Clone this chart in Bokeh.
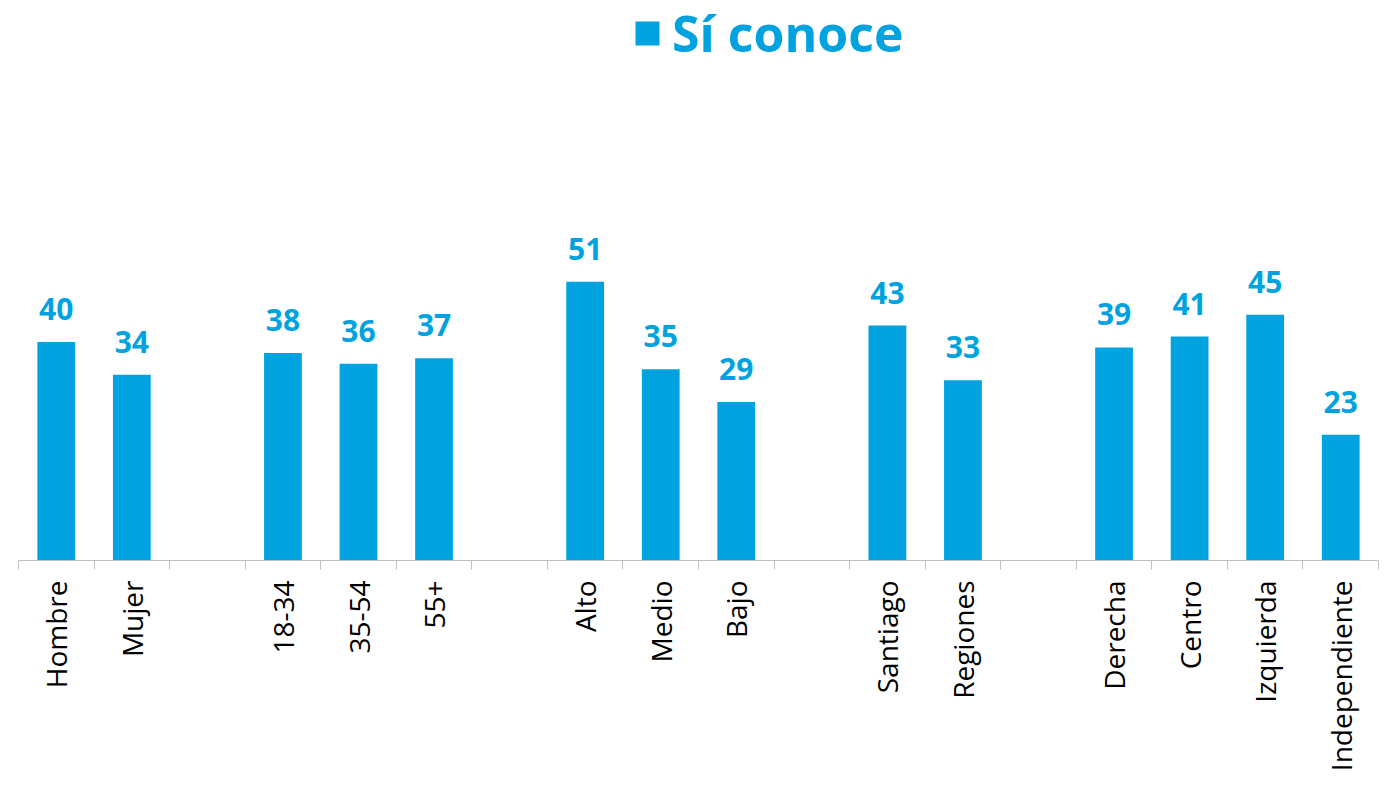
from bokeh.plotting import figure
from bokeh.models import Range1d, FixedTicker, Legend, LegendItem, ColumnDataSource
from bokeh.core.properties import value
from bokeh.embed import file_html
from bokeh.resources import INLINE
import math

categories = ["Hombre", "Mujer", "", "18-34", "35-54", "55+", "", "Alto", "Medio", "Bajo", "",
              "Santiago", "Regiones", "", "Derecha", "Centro", "Izquierda", "Independiente"]
values = [40, 34, None, 38, 36, 37, None, 51, 35, 29, None, 43, 33, None, 39, 41, 45, 23]
series_name = "Sí conoce"

BLUE = "#00A3E0"
FONT = "Open Sans"

xs = [i for i, v in enumerate(values) if v is not None]
vs = [v for v in values if v is not None]
src = ColumnDataSource(dict(x=xs, top=vs, lab=[str(v) for v in vs]))

p = figure(width=1388, height=798, output_backend="svg", toolbar_location=None,
           x_range=Range1d(-0.5, len(categories) - 0.5), y_range=Range1d(0, 102.5),
           min_border_left=18, min_border_right=10, min_border_top=0, min_border_bottom=238)
p.outline_line_color = None
p.xgrid.visible = False
p.ygrid.visible = False
p.yaxis.visible = False

r = p.vbar(x="x", top="top", width=0.5, bottom=0, source=src, fill_color=BLUE, line_color=None)
p.text(x="x", y="top", text="lab", source=src, text_align="center", text_baseline="alphabetic",
       y_offset=-33, text_font=value(FONT), text_font_style="bold", text_font_size="30px",
       text_color=BLUE)

ax = p.xaxis[0]
ax.ticker = FixedTicker(ticks=list(range(len(categories))),
                        minor_ticks=[i - 0.5 for i in range(len(categories) + 1)])
ax.major_label_overrides = {i: c for i, c in enumerate(categories)}
ax.major_label_orientation = math.pi / 2
ax.major_tick_line_color = None
ax.major_tick_out = 0
ax.major_tick_in = 0
ax.minor_tick_out = 9
ax.minor_tick_in = 0
ax.minor_tick_line_color = "#BFBFBF"
ax.axis_line_color = "#BFBFBF"
ax.major_label_standoff = 11
ax.major_label_text_font = FONT
ax.major_label_text_font_size = "28px"
ax.major_label_text_color = "#000000"

legend = Legend(items=[LegendItem(label=series_name, renderers=[r])],
                location=(614, 493), orientation="horizontal",
                glyph_width=30, glyph_height=30, label_standoff=10,
                label_text_font=FONT, label_text_font_style="bold",
                label_text_font_size="50px", label_text_color=BLUE,
                border_line_color=None, background_fill_alpha=0,
                padding=0, margin=0, spacing=0)
p.add_layout(legend)

open("out.html", "w").write(file_html(p, INLINE))
